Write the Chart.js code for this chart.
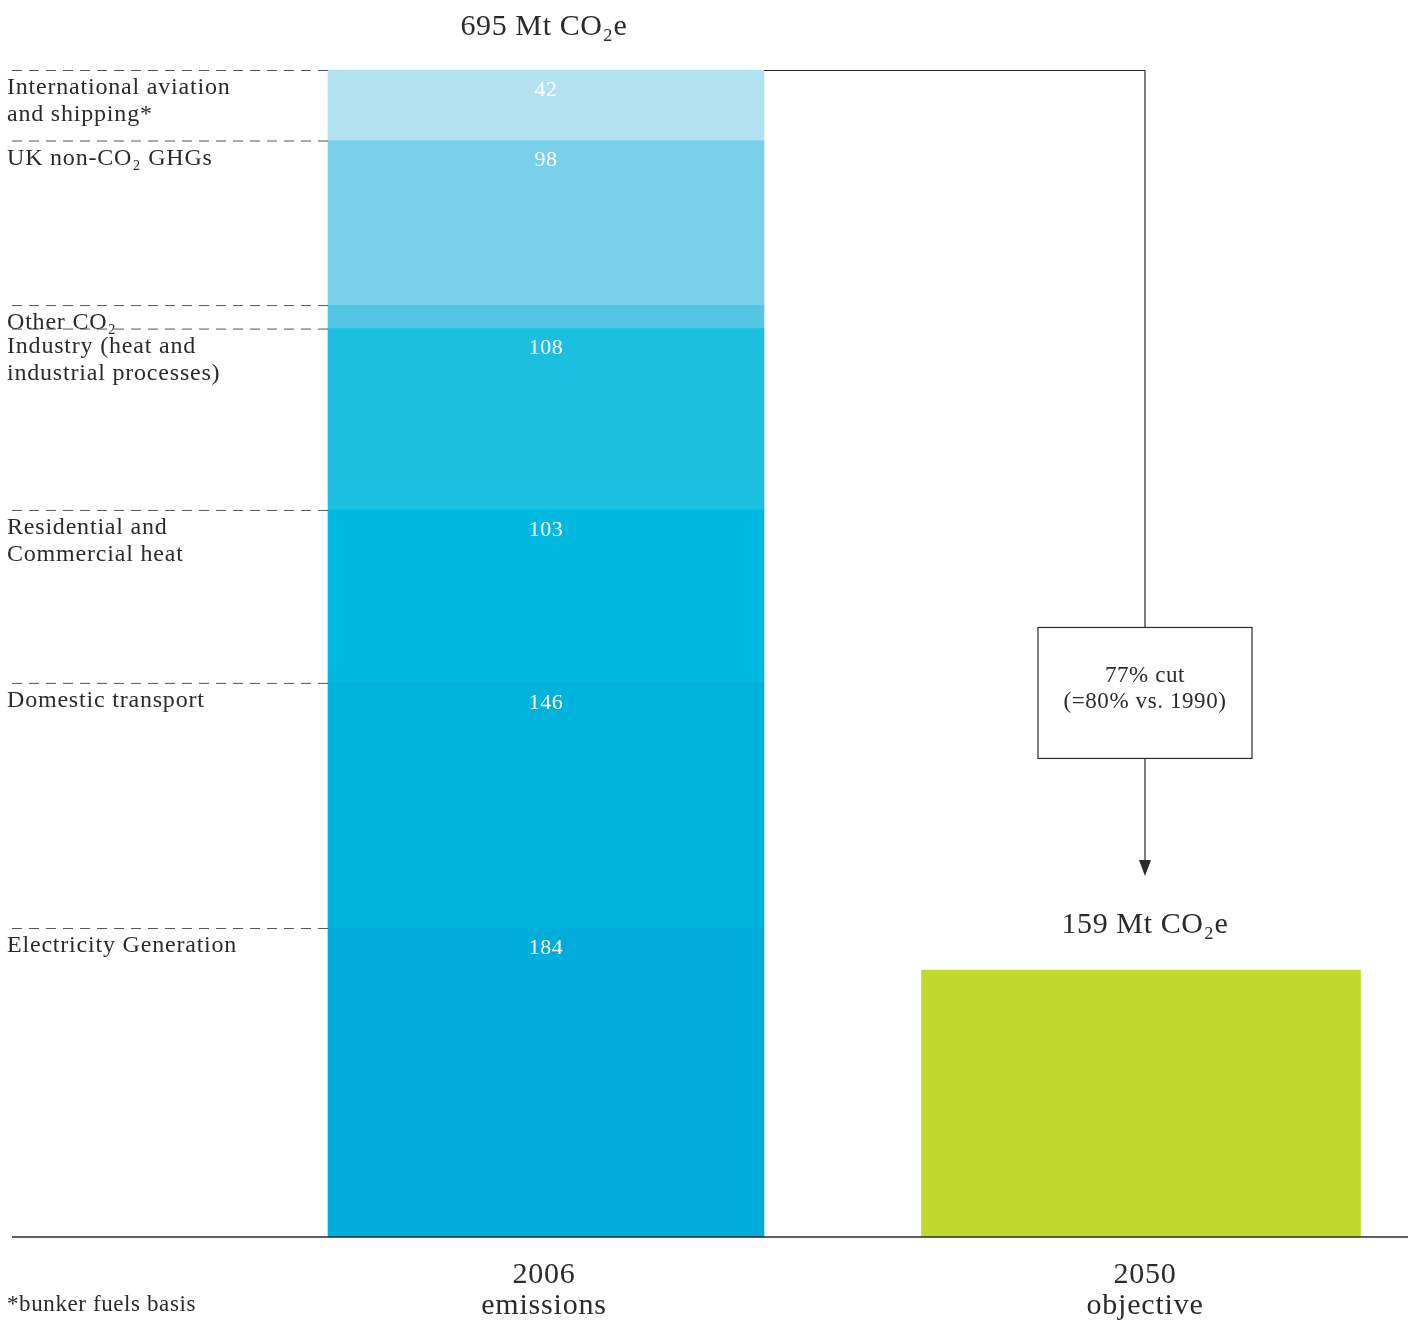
<!DOCTYPE html>
<html>
<head>
<meta charset="utf-8">
<script src="https://cdn.jsdelivr.net/npm/chart.js@4/dist/chart.umd.min.js"></script>
<style>
  html, body { margin: 0; padding: 0; background: #fff; }
  #wrap { width: 1415px; height: 1322px; position: relative; }
</style>
</head>
<body>
<div id="wrap"><canvas id="myChart"></canvas></div>
<script>
// categories on the x axis
const categories = [['2006', 'emissions'], ['2050', 'objective']];

// 2006 sectors, bottom to top
const sectorLabels = [
  ['Electricity Generation'],
  ['Domestic transport'],
  ['Residential and', 'Commercial heat'],
  ['Industry (heat and', 'industrial processes)'],
  ['Other CO₂'],
  ['UK non-CO₂ GHGs'],
  ['International aviation', 'and shipping*']
];
const sectorValues = [184, 146, 103, 108, 14, 98, 42];
const sectorShowValue = [true, true, true, true, false, true, true];
const sectorColors = ['#00acd9', '#01b2dc', '#00b9e0', '#1dbfe1', '#55c5e5', '#78d0e9', '#b2e1ef'];

// 2050 target
const objectiveValue = 159;
const totalLabels = ['695 Mt CO₂e', '159 Mt CO₂e'];
const cutLines = ['77% cut', '(=80% vs. 1990)'];
const footnote = '*bunker fuels basis';

const FONT = '"Liberation Serif", "DejaVu Serif", serif';
const INK = '#2b2b2b';

const datasets = sectorValues.map((v, i) => ({
  label: sectorLabels[i].join(' '),
  data: [v, null],
  backgroundColor: sectorColors[i],
  barThickness: 436,
  stack: 's',
  clip: false
}));
datasets.push({
  label: '2050 objective',
  data: [null, objectiveValue],
  backgroundColor: '#c1d92e',
  barThickness: 439,
  stack: 's',
  clip: false
});

function setFont(ctx, size, spacing) {
  ctx.font = size + 'px ' + FONT;
  ctx.letterSpacing = (spacing || 0) + 'px';
}

const decor = {
  id: 'decor',
  afterDatasetsDraw(chart) {
    const ctx = chart.ctx;
    const y = chart.scales.y;
    const x = chart.scales.x;
    ctx.save();

    // baseline
    const y0 = y.getPixelForValue(0);
    ctx.strokeStyle = INK;
    ctx.lineWidth = 1.5;
    ctx.beginPath();
    ctx.moveTo(12, y0);
    ctx.lineTo(1408, y0);
    ctx.stroke();

    // sector separators, side labels and values
    sectorValues.forEach((v, i) => {
      const el = chart.getDatasetMeta(i).data[0];
      const left = el.x - el.width / 2;
      ctx.strokeStyle = '#555';
      ctx.lineWidth = 1;
      ctx.setLineDash([10, 7]);
      ctx.beginPath();
      ctx.moveTo(12, el.y + 0.5);
      ctx.lineTo(left, el.y + 0.5);
      ctx.stroke();
      ctx.setLineDash([]);

      ctx.fillStyle = INK;
      setFont(ctx, 24, 0.8);
      ctx.textAlign = 'left';
      ctx.textBaseline = 'middle';
      sectorLabels[i].forEach((line, k) => {
        ctx.fillText(line, 7, el.y + 18 + k * 27);
      });

      if (sectorShowValue[i]) {
        ctx.fillStyle = '#ffffff';
        setFont(ctx, 22, 0.5);
        ctx.textAlign = 'center';
        ctx.fillText(String(v), el.x, el.y + 20);
      }
    });

    // totals above bars
    const topEl = chart.getDatasetMeta(sectorValues.length - 1).data[0];
    const objEl = chart.getDatasetMeta(sectorValues.length).data[1];
    ctx.fillStyle = INK;
    setFont(ctx, 30, 0.6);
    ctx.textAlign = 'center';
    ctx.textBaseline = 'middle';
    ctx.fillText(totalLabels[0], topEl.x - 2, topEl.y - 43);
    ctx.fillText(totalLabels[1], objEl.x + 4, objEl.y - 45);

    // bracket with box and arrow
    const cx = objEl.x + 4;
    const boxTop = y.getPixelForValue(363);
    const boxBot = y.getPixelForValue(285);
    const tip = y.getPixelForValue(215);
    const bw = 214;
    ctx.strokeStyle = INK;
    ctx.lineWidth = 1.2;
    ctx.beginPath();
    ctx.moveTo(topEl.x + topEl.width / 2, topEl.y + 0.5);
    ctx.lineTo(cx, topEl.y + 0.5);
    ctx.lineTo(cx, boxTop);
    ctx.stroke();
    ctx.strokeRect(cx - bw / 2, boxTop, bw, boxBot - boxTop);
    ctx.beginPath();
    ctx.moveTo(cx, boxBot);
    ctx.lineTo(cx, tip - 14);
    ctx.stroke();
    ctx.fillStyle = INK;
    ctx.beginPath();
    ctx.moveTo(cx - 6, tip - 16);
    ctx.lineTo(cx + 6, tip - 16);
    ctx.lineTo(cx, tip);
    ctx.closePath();
    ctx.fill();

    setFont(ctx, 23, 0.6);
    const mid = (boxTop + boxBot) / 2;
    ctx.fillText(cutLines[0], cx, mid - 17);
    ctx.fillText(cutLines[1], cx, mid + 9);

    // category labels
    setFont(ctx, 30, 0.8);
    categories.forEach((lines, i) => {
      const px = x.getPixelForValue(i);
      lines.forEach((line, k) => {
        ctx.fillText(line, px + (i === 1 ? 4 : -2), y0 + 38 + k * 31);
      });
    });

    // footnote
    setFont(ctx, 23, 0.6);
    ctx.textAlign = 'left';
    ctx.fillText(footnote, 7, y0 + 68);

    ctx.restore();
  }
};

const ctx = document.getElementById('myChart').getContext('2d');
new Chart(ctx, {
  type: 'bar',
  data: { labels: categories, datasets: datasets },
  plugins: [decor],
  options: {
    responsive: true,
    maintainAspectRatio: false,
    animation: false,
    layout: { padding: { left: 546, right: 274, top: 70, bottom: 85 } },
    plugins: { legend: { display: false }, tooltip: { enabled: false } },
    scales: {
      x: { stacked: true, offset: false, display: false },
      y: { stacked: true, display: false, min: 0, max: 695 }
    }
  }
});
</script>
</body>
</html>
